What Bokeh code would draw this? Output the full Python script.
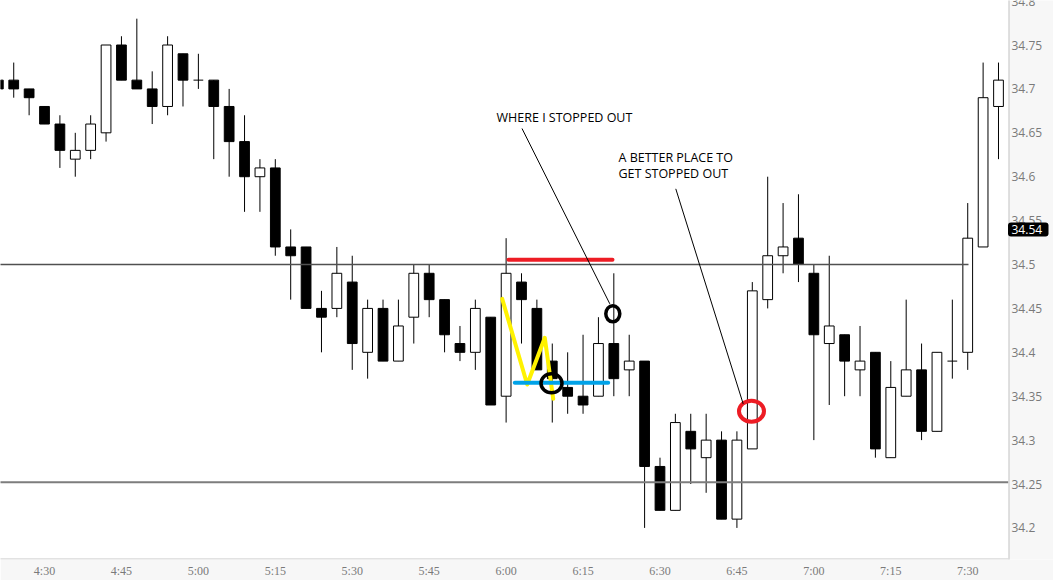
from bokeh.plotting import figure
from bokeh.models import ColumnDataSource, FixedTicker, Range1d, Span
from bokeh.core.properties import value
from bokeh.embed import file_html
from bokeh.resources import INLINE

# --- 3-minute bars, first bar at 4:21 ---------------------------------
bar_start = 4 * 60 + 21      # minutes after midnight
bar_step = 3                 # minutes per bar

opens = [34.71, 34.71, 34.70, 34.68, 34.66, 34.62, 34.63, 34.65, 34.75, 34.71,
         34.70, 34.68, 34.74, 34.71, 34.71, 34.68, 34.64, 34.60, 34.61, 34.52,
         34.52, 34.45, 34.45, 34.48, 34.40, 34.45, 34.39, 34.44, 34.49, 34.46,
         34.41, 34.40, 34.44, 34.35, 34.48, 34.45, 34.39, 34.36, 34.35, 34.35,
         34.41, 34.38, 34.39, 34.27, 34.22, 34.31, 34.28, 34.30, 34.21, 34.29,
         34.46, 34.51, 34.53, 34.49, 34.41, 34.42, 34.38, 34.40, 34.28, 34.35,
         34.38, 34.31, 34.39, 34.40, 34.52, 34.68]
highs = [34.71, 34.73, 34.70, 34.68, 34.67, 34.65, 34.67, 34.75, 34.76, 34.78,
         34.72, 34.76, 34.74, 34.74, 34.71, 34.70, 34.67, 34.62, 34.62, 34.54,
         34.52, 34.47, 34.52, 34.51, 34.46, 34.46, 34.46, 34.50, 34.50, 34.46,
         34.43, 34.46, 34.44, 34.53, 34.49, 34.46, 34.41, 34.40, 34.42, 34.44,
         34.49, 34.42, 34.39, 34.28, 34.33, 34.33, 34.33, 34.31, 34.31, 34.48,
         34.60, 34.57, 34.58, 34.50, 34.51, 34.42, 34.43, 34.40, 34.39, 34.46,
         34.41, 34.40, 34.46, 34.57, 34.73, 34.73]
lows = [34.70, 34.69, 34.67, 34.66, 34.61, 34.60, 34.62, 34.64, 34.71, 34.70,
        34.66, 34.67, 34.68, 34.70, 34.62, 34.60, 34.56, 34.56, 34.51, 34.46,
        34.45, 34.40, 34.44, 34.38, 34.37, 34.39, 34.39, 34.41, 34.44, 34.40,
        34.39, 34.38, 34.34, 34.32, 34.41, 34.38, 34.32, 34.33, 34.33, 34.35,
        34.35, 34.35, 34.20, 34.22, 34.22, 34.25, 34.24, 34.21, 34.20, 34.29,
        34.45, 34.49, 34.48, 34.30, 34.34, 34.35, 34.35, 34.28, 34.28, 34.35,
        34.30, 34.31, 34.37, 34.38, 34.52, 34.62]
closes = [34.70, 34.70, 34.69, 34.66, 34.63, 34.63, 34.66, 34.75, 34.71, 34.70,
          34.68, 34.75, 34.71, 34.71, 34.68, 34.64, 34.60, 34.61, 34.52, 34.51,
          34.45, 34.44, 34.49, 34.41, 34.45, 34.39, 34.43, 34.49, 34.46, 34.42,
          34.40, 34.45, 34.34, 34.49, 34.46, 34.38, 34.37, 34.35, 34.34, 34.41,
          34.37, 34.39, 34.27, 34.22, 34.32, 34.29, 34.30, 34.21, 34.30, 34.47,
          34.51, 34.52, 34.50, 34.42, 34.43, 34.39, 34.39, 34.29, 34.36, 34.38,
          34.31, 34.40, 34.39, 34.53, 34.69, 34.71]

x_tick_minutes = [270, 285, 300, 315, 330, 345, 360, 375, 390, 405, 420, 435, 450]
x_tick_labels = ["4:30", "4:45", "5:00", "5:15", "5:30", "5:45", "6:00",
                 "6:15", "6:30", "6:45", "7:00", "7:15", "7:30"]
y_ticks = [34.2, 34.25, 34.3, 34.35, 34.4, 34.45, 34.5, 34.55, 34.6, 34.65,
           34.7, 34.75, 34.8]
y_tick_labels = ["34.2", "34.25", "34.3", "34.35", "34.4", "34.45", "34.5",
                 "34.55", "34.6", "34.65", "34.7", "34.75", "34.8"]

resistance_level = 34.5
support_level = 34.252
last_price = 34.54

# ---------------------------------------------------------------------
times = [bar_start + bar_step * i for i in range(len(opens))]

body_t, body_top, body_bot, body_fill = [], [], [], []
doji_t, doji_y = [], []
for t, o, c in zip(times, opens, closes):
    if abs(o - c) < 1e-9:
        doji_t.append(t)
        doji_y.append(o)
    else:
        body_t.append(t)
        body_top.append(max(o, c))
        body_bot.append(min(o, c))
        body_fill.append("white" if c > o else "black")

# The plotting frame spans the whole width; the price scale strip on the
# right is drawn inside it so the price tag can sit on top of the scale.
W, H = 1053, 559
min_per_px = 196.53 / 1008
x_lo = 261.42
x_hi = x_lo + W * min_per_px
y_hi = 34.8007
px_per_price = 878.0
y_lo = y_hi - H / px_per_price


def tx(px):
    """minutes at a horizontal pixel offset from the left edge"""
    return x_lo + px * min_per_px


def py(px):
    """price at a vertical pixel offset from the top edge"""
    return y_hi - px / px_per_price


p = figure(frame_width=W, frame_height=H,
           x_range=Range1d(x_lo, x_hi), y_range=Range1d(y_lo, y_hi),
           y_axis_location=None, output_backend="svg", toolbar_location=None,
           min_border_left=0, min_border_top=0, min_border_right=0,
           min_border_bottom=21, background_fill_color="white",
           border_fill_color="#f7f7f7", outline_line_color=None)
p.grid.visible = False

# time axis
p.xaxis.ticker = FixedTicker(ticks=x_tick_minutes)
p.xaxis.major_label_overrides = dict(zip(x_tick_minutes, x_tick_labels))
ax = p.xaxis[0]
ax.axis_line_color = None
ax.major_tick_line_color = None
ax.minor_tick_line_color = None
ax.major_tick_out = 0
ax.major_tick_in = 0
ax.minor_tick_out = 0
ax.minor_tick_in = 0
ax.major_label_text_color = "#7a7a7a"
ax.major_label_text_font_size = "12px"
ax.major_label_text_font = "Liberation Sans Narrow"
ax.major_label_standoff = 4

# candles
src = ColumnDataSource(dict(t=times, high=highs, low=lows))
p.segment(x0="t", y0="low", x1="t", y1="high", source=src,
          line_color="black", line_width=1)
body_src = ColumnDataSource(dict(t=body_t, top=body_top, bottom=body_bot, fill=body_fill))
p.vbar(x="t", width=1.9, top="top", bottom="bottom", fill_color="fill",
       line_color="black", line_width=1, source=body_src)
p.segment(x0=[t - 0.95 for t in doji_t], x1=[t + 0.95 for t in doji_t],
          y0=doji_y, y1=doji_y, line_color="black", line_width=1)

# horizontal levels
p.segment(x0=[255], x1=[450.15], y0=[resistance_level], y1=[resistance_level],
          line_color="#505050", line_width=1.6)
p.segment(x0=[255], x1=[tx(1008)], y0=[support_level], y1=[support_level],
          line_color="#7d7d7d", line_width=2)

# hand-drawn markup
p.line([360.47, 380.74], [34.5054, 34.5054], line_color="#ed1c24",
       line_width=4, line_cap="round")
p.line([359.24, 364.11, 367.54, 369.18], [34.4609, 34.3633, 34.4165, 34.347],
       line_color="#fff200", line_width=4, line_join="round", line_cap="round")
p.line([361.69, 379.9], [34.3653, 34.3653], line_color="#00a2e8",
       line_width=4, line_cap="round")
p.ellipse(x=[368.85], y=[34.3648], width=21, height=19, width_units="screen",
          height_units="screen", fill_color=None, line_color="black", line_width=3.5)
p.ellipse(x=[380.8], y=[34.4438], width=14, height=16, width_units="screen",
          height_units="screen", fill_color=None, line_color="black", line_width=3.5)
p.ellipse(x=[407.84], y=[34.3329], width=25, height=21, width_units="screen",
          height_units="screen", fill_color=None, line_color="#ed1c24", line_width=4)

p.segment(x0=[363.1, 393.08], y0=[34.6549, 34.5862], x1=[380.22, 406.22],
          y1=[34.4552, 34.3413], line_color="black", line_width=1)

p.text(x=[358.13, 381.91, 381.91], y=[34.6672, 34.6216, 34.6034],
       text=["WHERE I STOPPED OUT", "A BETTER PLACE TO", "GET STOPPED OUT"],
       text_font=value("Open Sans"), text_font_size="12.5px", text_color="black",
       text_baseline="alphabetic", text_align="left")

# bottom edge of the chart area
p.segment(x0=[x_lo - 1], x1=[tx(1008)], y0=[py(558.5)], y1=[py(558.5)],
          line_color="#c4c4c4", line_width=1)

# price scale strip
p.quad(left=[tx(1008)], right=[x_hi + 1], bottom=[y_lo - 1], top=[y_hi + 1],
       fill_color="#f7f7f7", line_color=None)
p.segment(x0=[tx(1008.5)], x1=[tx(1008.5)], y0=[y_lo - 1], y1=[y_hi + 1],
          line_color="#c4c4c4", line_width=1)
p.text(x=[tx(1011)] * len(y_ticks), y=y_ticks, text=y_tick_labels,
       text_font=value("Open Sans"), text_font_size="12px", text_color="#7a7a7a",
       text_baseline="middle", text_align="left")

# last price tag
p.quad(left=[tx(1007.5)], right=[tx(1048)], bottom=[last_price - 7 / px_per_price],
       top=[last_price + 7 / px_per_price], fill_color="black", line_color=None,
       border_radius=3)
p.text(x=[tx(1011)], y=[last_price], text=[f"{last_price:.2f}"],
       text_font=value("Open Sans"), text_font_size="12px", text_color="white",
       text_baseline="middle", text_align="left")

open("out.html", "w").write(file_html(p, INLINE))
